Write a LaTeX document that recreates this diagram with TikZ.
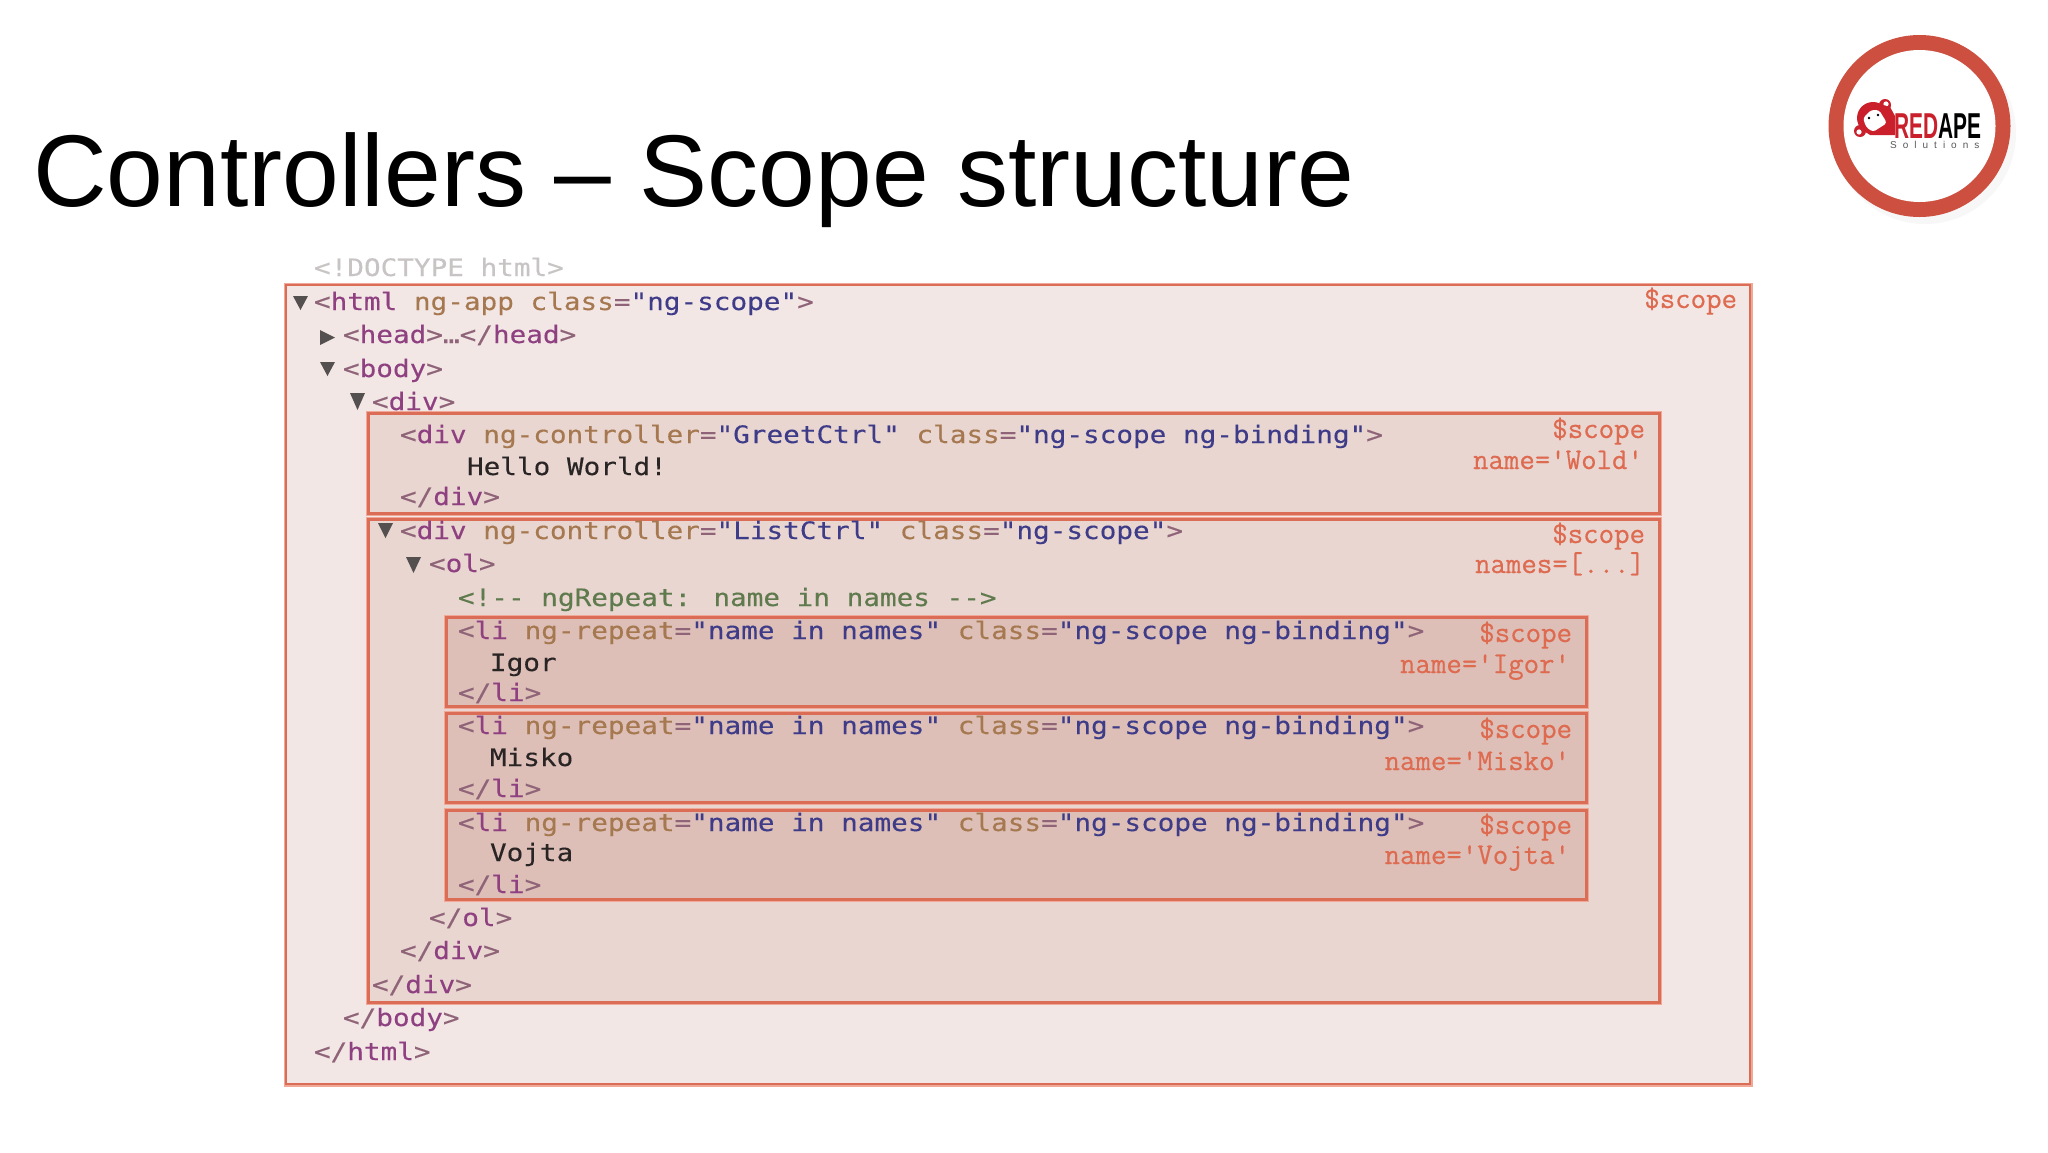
\documentclass[tikz,border=0pt]{standalone}
\usepackage{fontspec}
\setmainfont{Liberation Sans}
\setmonofont{Latin Modern Mono}
\newfontfamily\codefont[FakeStretch=1.153,FakeBold=0.25]{DejaVu Sans Mono}
\newfontfamily\scopefont[FakeBold=0.5]{Latin Modern Mono}
\newfontfamily\apefont[FakeStretch=0.58]{Liberation Sans Bold}
\newfontfamily\solfont[LetterSpace=60]{Liberation Sans}
\definecolor{tagc}{HTML}{8E4080}
\definecolor{brc}{HTML}{8F6478}
\definecolor{attrc}{HTML}{A5784F}
\definecolor{valc}{HTML}{3E3C88}
\definecolor{comc}{HTML}{5F7A4C}
\definecolor{txtc}{HTML}{2A2525}
\definecolor{doc}{HTML}{C8C4C4}
\definecolor{scopec}{HTML}{DE6A50}
\definecolor{bord}{HTML}{DB6C55}
\definecolor{halo}{HTML}{F0A898}
\definecolor{outerf}{HTML}{F3E7E6}
\definecolor{midf}{HTML}{E9D6D1}
\definecolor{inf}{HTML}{DDBFB7}
\definecolor{ringc}{HTML}{CC4F3F}
\definecolor{apered}{HTML}{C9202C}
\definecolor{trc}{HTML}{555050}
\newcommand{\T}[1]{\textcolor{tagc}{#1}}
\newcommand{\B}[1]{\textcolor{brc}{#1}}
\newcommand{\A}[1]{\textcolor{attrc}{#1}}
\newcommand{\V}[1]{\textcolor{valc}{#1}}
\newcommand{\Tri}[3]{\fill[trc] (#1,#2) -- (#1+15,#2) -- (#1+7.5,#3) -- cycle;}
\tikzset{
 x=1pt,y=-1pt,
 code/.style={anchor=base west,inner sep=0pt,outer sep=0pt,font=\fontsize{24}{26}\codefont},
 scopel/.style={anchor=base east,inner sep=0pt,outer sep=0pt,text=scopec,font=\fontsize{30}{30}\scopefont},
 anybox/.style={inner sep=0pt,outer sep=0pt,anchor=north west,preaction={draw=halo,line width=5pt}},
 outerbox/.style={anybox,draw=bord,line width=2.6pt,fill=outerf},
 midbox/.style={anybox,draw=bord,line width=3pt,fill=midf},
 innerbox/.style={anybox,draw=bord,line width=3pt,fill=inf},
}
\begin{document}
\begin{tikzpicture}
\useasboundingbox (0,0) rectangle (2048,1152);
\fill[white] (0,0) rectangle (2048,1152);
% title
\node[anchor=base west,inner sep=0pt,font=\fontsize{102}{120}\selectfont] (title) at (33,206) {Controllers – Scope structure};
% logo
\fill[black!5] (1923,131) circle (91);
\fill[black!3] (1925,133) circle (91);
\fill[ringc] (1919.5,126) circle (91);
\fill[white] (1919.5,126) circle (76);
\fill[apered] (1873,118) circle (16);
\fill[apered] (1860,131) circle (6);
\fill[apered] (1885,105) circle (6);
\fill[white] (1859,132) circle (2.6);
\fill[white] (1886,104) circle (2.6);
\fill[apered] (1864,131) -- (1880,104) -- (1890,107) -- (1895,116) -- (1895,135) -- (1870,135) -- cycle;
\fill[white,rounded corners=3pt] (1863,118) -- (1871,110) -- (1879,110) -- (1887,123) -- (1873,132) -- (1866,127) -- cycle;
\fill[black] (1869,118) circle (1.4) (1878,115) circle (1.4);
\node[anchor=base west,inner sep=0pt,font=\fontsize{36}{36}\apefont] (logoname) at (1894,138) {\textcolor{apered}{RED}\textcolor{black}{APE}};
\node[anchor=base west,inner sep=0pt,text=black!65,font=\fontsize{10}{10}\solfont] (logosub) at (1890,148.5) {Solutions};
% boxes
\node[outerbox,minimum width=1464pt,minimum height=799pt] (outer) at (286,285) {};
\node[midbox,minimum width=1291pt,minimum height=100pt] (greet) at (368,413) {};
\node[midbox,minimum width=1291pt,minimum height=483pt] (list) at (368,519) {};
\node[innerbox,minimum width=1139.5pt,minimum height=89pt] (li1) at (446.5,617) {};
\node[innerbox,minimum width=1139.5pt,minimum height=89pt] (li2) at (446.5,713) {};
\node[innerbox,minimum width=1139.5pt,minimum height=89pt] (li3) at (446.5,810) {};
% triangles
\Tri{293}{296}{310}
\fill[trc] (320,330) -- (335,337.5) -- (320,345) -- cycle;
\Tri{320}{362}{376}
\Tri{350}{393}{410}
\Tri{378}{523}{538}
\Tri{406}{557}{573}
% code
\node[code,text=doc] (t1) at (314,276) {<!DOCTYPE html>};
\node[code] (t2) at (314,310) {\B{<}\T{html} \A{ng-app} \A{class}\B{=}\V{"ng-scope"}\B{>}};
\node[code] (t3) at (343,343) {\B{<}\T{head}\B{>}\B{…</}\T{head}\B{>}};
\node[code] (t4) at (343,377) {\B{<}\T{body}\B{>}};
\node[code] (t5) at (372,410) {\B{<}\T{div}\B{>}};
\node[code] (t6) at (400,443) {\B{<}\T{div} \A{ng-controller}\B{=}\V{"GreetCtrl"} \A{class}\B{=}\V{"ng-scope ng-binding"}\B{>}};
\node[code,text=txtc] (t7) at (467,475) {Hello World!};
\node[code] (t8) at (400,505) {\B{</}\T{div}\B{>}};
\node[code] (t9) at (400,539) {\B{<}\T{div} \A{ng-controller}\B{=}\V{"ListCtrl"} \A{class}\B{=}\V{"ng-scope"}\B{>}};
\node[code] (t10) at (429,572) {\B{<}\T{ol}\B{>}};
\node[code,text=comc] (t11) at (458,606) {<!-- ngRepeat: name in names -->};
\node[code] (t12) at (458,639) {\B{<}\T{li} \A{ng-repeat}\B{=}\V{"name in names"} \A{class}\B{=}\V{"ng-scope ng-binding"}\B{>}};
\node[code,text=txtc] (t13) at (490,671) {Igor};
\node[code] (t14) at (458,701) {\B{</}\T{li}\B{>}};
\node[code] (t15) at (458,734) {\B{<}\T{li} \A{ng-repeat}\B{=}\V{"name in names"} \A{class}\B{=}\V{"ng-scope ng-binding"}\B{>}};
\node[code,text=txtc] (t16) at (490,766) {Misko};
\node[code] (t17) at (458,797) {\B{</}\T{li}\B{>}};
\node[code] (t18) at (458,831) {\B{<}\T{li} \A{ng-repeat}\B{=}\V{"name in names"} \A{class}\B{=}\V{"ng-scope ng-binding"}\B{>}};
\node[code,text=txtc] (t19) at (490,861) {Vojta};
\node[code] (t20) at (458,893) {\B{</}\T{li}\B{>}};
\node[code] (t21) at (429,926) {\B{</}\T{ol}\B{>}};
\node[code] (t22) at (400,959) {\B{</}\T{div}\B{>}};
\node[code] (t23) at (372,993) {\B{</}\T{div}\B{>}};
\node[code] (t24) at (343,1026) {\B{</}\T{body}\B{>}};
\node[code] (t25) at (314,1060) {\B{</}\T{html}\B{>}};
% scope labels
\node[scopel] (s0) at (1737,308) {\$scope};
\node[scopel] (s1) at (1645,438) {\$scope};
\node[scopel] (n1) at (1643,469) {name='Wold'};
\node[scopel] (s2) at (1645,543) {\$scope};
\node[scopel] (n2) at (1645,573) {names=[...]};
\node[scopel] (s3) at (1572,642) {\$scope};
\node[scopel] (n3) at (1570,673) {name='Igor'};
\node[scopel] (s4) at (1572,738) {\$scope};
\node[scopel] (n4) at (1570,770) {name='Misko'};
\node[scopel] (s5) at (1572,834) {\$scope};
\node[scopel] (n5) at (1570,864) {name='Vojta'};
\end{tikzpicture}
\end{document}
